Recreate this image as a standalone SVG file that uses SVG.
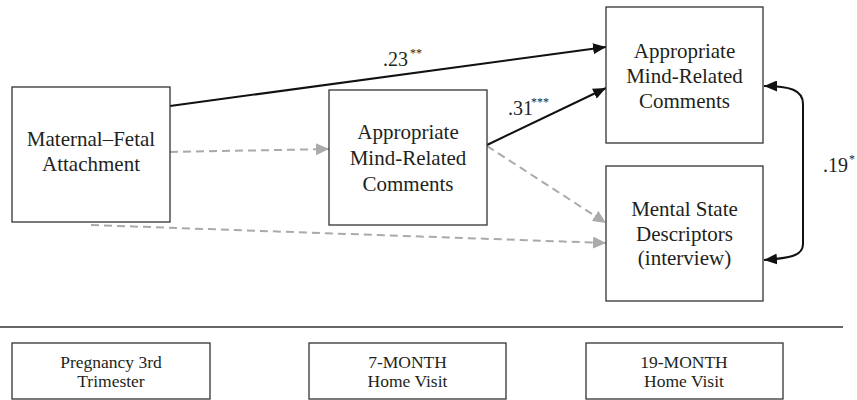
<svg xmlns="http://www.w3.org/2000/svg" width="857" height="400" viewBox="0 0 857 400">
<style>
  text{font-family:'Liberation Serif','Times New Roman','DejaVu Serif',serif;fill:#231f20}
  .box{fill:#fff;stroke:#333;stroke-width:1.3}
  .t{text-anchor:middle;font-size:21px}
  .s{text-anchor:middle;font-size:17.5px}
  .lab{font-size:20px}
  .sup{font-size:12px}
  .solid{fill:none;stroke:#111;stroke-width:2;marker-end:url(#ab)}
  .dash{fill:none;stroke:#aaa;stroke-width:2;stroke-dasharray:8 5;marker-end:url(#ag)}
</style>
<defs>
  <marker id="ab" markerUnits="userSpaceOnUse" markerWidth="13" markerHeight="11" refX="13" refY="5.5" orient="auto-start-reverse">
    <path d="M0,0 L13,5.5 L0,11 z" fill="#111"/>
  </marker>
  <marker id="ag" markerUnits="userSpaceOnUse" markerWidth="13" markerHeight="12" refX="13" refY="6" orient="auto">
    <path d="M0,0 L13,6 L0,12 z" fill="#aaa"/>
  </marker>
</defs>

<g id="connectors">
  <line class="solid" x1="170" y1="106" x2="606" y2="47"/>
  <line class="solid" x1="487" y1="145" x2="606" y2="88"/>
  <line class="dash" x1="170" y1="152" x2="329" y2="149"/>
  <line class="dash" x1="487" y1="146" x2="606" y2="223"/>
  <line class="dash" x1="91" y1="225" x2="606" y2="243"/>
  <path d="M764,86 C790,86 803,90 803,104 L803,244 C803,256 790,258 764,260" fill="none" stroke="#111" stroke-width="2" marker-start="url(#ab)" marker-end="url(#ab)"/>
</g>

<g id="n-mfa">
  <rect class="box" x="12" y="87" width="158" height="135"/>
  <text class="t" x="91" y="146" font-family="Liberation Serif, serif">Maternal–Fetal</text>
  <text class="t" x="91" y="171" font-family="Liberation Serif, serif">Attachment</text>
</g>
<g id="n-amrc7">
  <rect class="box" x="329" y="90" width="158" height="135"/>
  <text class="t" x="408" y="139">Appropriate</text>
  <text class="t" x="408" y="165">Mind-Related</text>
  <text class="t" x="408" y="191">Comments</text>
</g>
<g id="n-amrc19">
  <rect class="box" x="606" y="7" width="157" height="136"/>
  <text class="t" x="684.5" y="57.5">Appropriate</text>
  <text class="t" x="684.5" y="82.5">Mind-Related</text>
  <text class="t" x="684.5" y="107.5">Comments</text>
</g>
<g id="n-msd">
  <rect class="box" x="606" y="166" width="157" height="135"/>
  <text class="t" x="684.5" y="215.5">Mental State</text>
  <text class="t" x="684.5" y="240.5">Descriptors</text>
  <text class="t" x="684.5" y="265">(interview)</text>
</g>

<g id="labels">
  <text class="lab" x="383" y="66">.23</text><text class="sup" x="410" y="57">**</text>
  <text class="lab" x="508" y="115">.31</text><text class="sup" x="531" y="106">***</text>
  <text class="lab" x="823" y="172">.19</text><text class="sup" x="849" y="163">*</text>
</g>

<line x1="0" y1="327" x2="843" y2="327" stroke="#333" stroke-width="1.5"/>

<g id="t-preg">
  <rect class="box" x="12" y="343" width="198" height="56"/>
  <text class="s" x="111" y="367.5">Pregnancy 3rd</text>
  <text class="s" x="111" y="386.5">Trimester</text>
</g>
<g id="t-7m">
  <rect class="box" x="309" y="343" width="197" height="56"/>
  <text class="s" x="407.5" y="367.5">7-MONTH</text>
  <text class="s" x="407.5" y="386.5">Home Visit</text>
</g>
<g id="t-19m">
  <rect class="box" x="586" y="343" width="197" height="56"/>
  <text class="s" x="684" y="367.5">19-MONTH</text>
  <text class="s" x="684" y="386.5">Home Visit</text>
</g>
</svg>
